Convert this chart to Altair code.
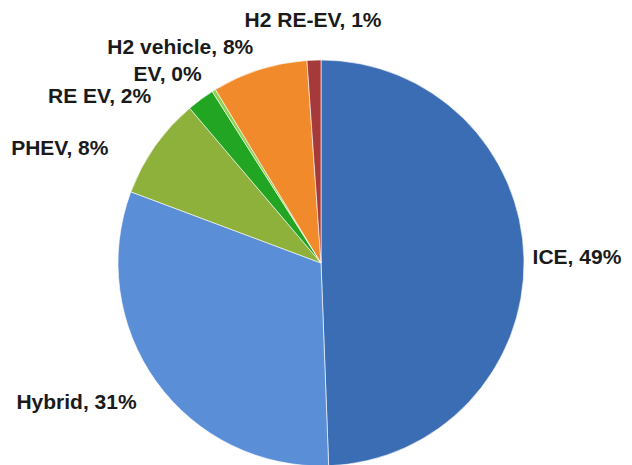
import altair as alt
import pandas as pd

categories = ["ICE", "Hybrid", "PHEV", "RE EV", "EV", "H2 vehicle", "H2 RE-EV"]
shares = [49.4, 31.3, 8.1, 2.2, 0.3, 7.6, 1.1]
labels = ["ICE, 49%", "Hybrid, 31%", "PHEV, 8%", "RE EV, 2%", "EV, 0%", "H2 vehicle, 8%", "H2 RE-EV, 1%"]
colors = ["#3b6db4", "#5a8fd8", "#8db13a", "#22a522", "#8ed24e", "#f08a2a", "#a63a3a"]

df = pd.DataFrame({
    "idx": list(range(len(categories))),
    "category": categories,
    "share": shares,
    "label": labels,
})

# label layout offsets (dx, dy) relative to the slice mid-angle at radius 230
label_offsets = {
    "ICE": (26, 5),
    "Hybrid": (-58, 11),
    "PHEV": (-73, 24),
    "RE EV": (-85, 25),
    "EV": (-32, 13),
    "H2 vehicle": (-71, 10),
    "H2 RE-EV": (0, -6),
}

theta_scale = alt.Scale(domain=[0, 100])
color_scale = alt.Scale(domain=categories, range=colors)

base = alt.Chart(df)

pie = base.mark_arc(radius=203, stroke="#ffffff", strokeWidth=1, strokeOpacity=0.6).encode(
    theta=alt.Theta("share:Q", stack=True, scale=theta_scale),
    color=alt.Color("category:N", scale=color_scale, legend=None),
    order=alt.Order("idx:Q", sort="ascending"),
)

lab_base = base.transform_window(
    cum="sum(share)", sort=[alt.SortField("idx", order="ascending")], frame=[None, 0]
).transform_calculate(mid="datum.cum - datum.share / 2")

layers = [pie]
for cat in categories:
    dx, dy = label_offsets[cat]
    layers.append(
        lab_base.transform_filter(alt.datum.category == cat)
        .mark_text(
            radius=230, dx=dx, dy=dy, align="center", baseline="alphabetic",
            font="Liberation Sans", fontSize=21, fontWeight="bold", color="#1a1a1a",
        )
        .encode(theta=alt.Theta("mid:Q", stack=None, scale=theta_scale), text="label:N")
    )

chart = alt.layer(*layers).properties(
    width=606, height=510,
    padding={"left": 10, "top": 0, "right": 0, "bottom": 0},
    autosize=alt.AutoSizeParams(type="none"),
    background="#ffffff",
).configure_view(stroke=None)

chart.save("out.html", embed_options={"renderer": "svg", "actions": False})
